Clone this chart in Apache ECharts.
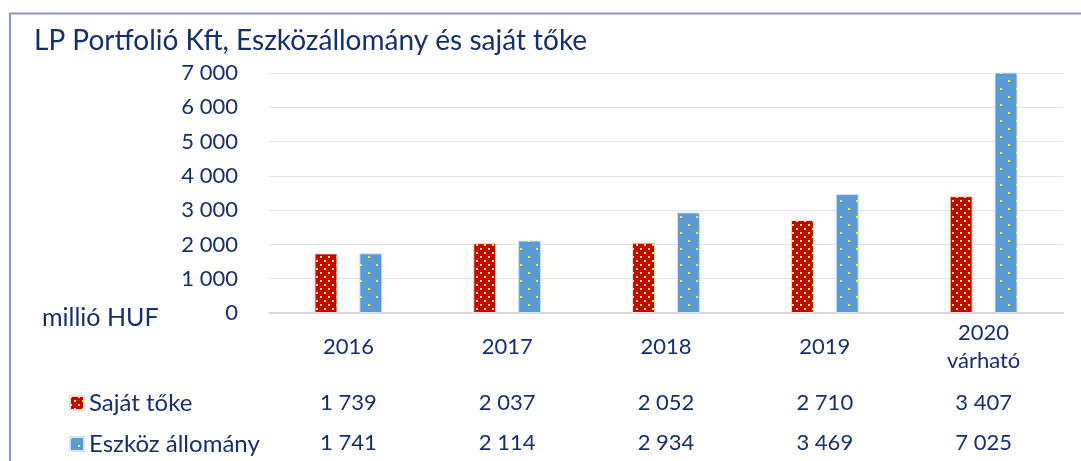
<!DOCTYPE html>
<html>
<head>
<meta charset="utf-8">
<script src="https://cdn.jsdelivr.net/npm/echarts@6/dist/echarts.min.js"></script>
<style>
  html, body { margin: 0; padding: 0; background: #fff; }
  #chart { width: 1081px; height: 461px; }
</style>
</head>
<body>
<div id="chart"></div>
<script>
// adatok
var years = ['2016', '2017', '2018', '2019', '2020\nvárható'];
var sajatToke = [1739, 2037, 2052, 2710, 3407];
var eszkoz = [1741, 2114, 2934, 3469, 7025];
var seriesNames = ['Saját tőke', 'Eszköz állomány'];

var textColor = '#15306a';
var font = 'Lato';

// ezres elválasztó szóközzel
function fmt(v) {
  return String(v).replace(/\B(?=(\d{3})+(?!\d))/g, ' ');
}

// pöttyös minták
function dotPattern(bg, size, step) {
  var c = document.createElement('canvas');
  c.width = size; c.height = size;
  var ctx = c.getContext('2d');
  ctx.fillStyle = bg;
  ctx.fillRect(0, 0, size, size);
  ctx.fillStyle = '#ffff00';
  ctx.fillRect(0, 0, 2, 2);
  ctx.fillRect(step, step, 2, 2);
  return { image: c, repeat: 'repeat' };
}

var redFill = dotPattern('#c00000', 8, 4);
var blueFill = dotPattern('#5b9bd5', 16, 8);

var myChart = echarts.init(document.getElementById('chart'));
myChart.setOption({
  animation: false,
  textStyle: { fontFamily: font, color: textColor },
  title: {
    text: 'LP Portfolió Kft, Eszközállomány és saját tőke',
    left: 29,
    top: 22,
    textStyle: { fontFamily: font, fontSize: 28, fontWeight: 'normal', color: textColor }
  },
  legend: {
    orient: 'vertical',
    left: 64,
    top: 386,
    itemWidth: 14,
    itemHeight: 14,
    itemGap: 17,
    icon: 'rect',
    textStyle: { fontFamily: font, fontSize: 24, color: textColor },
    data: seriesNames
  },
  grid: { left: 269, right: 18, top: 73, bottom: 148 },
  xAxis: [
    {
      type: 'category',
      data: years,
      axisLine: { lineStyle: { color: '#d9d9d9', width: 2 } },
      axisTick: { show: false },
      axisLabel: { fontSize: 22, color: textColor, lineHeight: 28, verticalAlign: 'middle', margin: 34 }
    },
    {
      type: 'category',
      position: 'bottom',
      data: sajatToke.map(fmt),
      axisLine: { show: false },
      axisTick: { show: false },
      axisLabel: { fontSize: 22, color: textColor, verticalAlign: 'middle', margin: 90 }
    },
    {
      type: 'category',
      position: 'bottom',
      data: eszkoz.map(fmt),
      axisLine: { show: false },
      axisTick: { show: false },
      axisLabel: { fontSize: 22, color: textColor, verticalAlign: 'middle', margin: 130 }
    }
  ],
  yAxis: {
    type: 'value',
    min: 0,
    max: 7000,
    interval: 1000,
    axisLine: { show: false },
    axisTick: { show: false },
    splitLine: { lineStyle: { color: '#e3e3e3', width: 1 } },
    axisLabel: { fontSize: 22, color: textColor, margin: 31, formatter: fmt }
  },
  graphic: [
    {
      type: 'polyline',
      shape: { points: [[10, 461], [10, 13.5], [1081, 13.5]] },
      style: { stroke: '#8a96b8', lineWidth: 2, fill: null }
    },
    {
      type: 'text',
      left: 42,
      top: 305,
      style: { text: 'millió HUF', fontFamily: font, fontSize: 25, fill: textColor }
    }
  ],
  series: [
    {
      name: seriesNames[0],
      type: 'bar',
      data: sajatToke,
      barWidth: 23,
      barGap: '95%',
      itemStyle: { color: redFill, borderColor: '#f2dcdc', borderWidth: 1 }
    },
    {
      name: seriesNames[1],
      type: 'bar',
      data: eszkoz,
      barWidth: 23,
      itemStyle: { color: blueFill, borderColor: '#d6e6f5', borderWidth: 1 }
    }
  ]
});
</script>
</body>
</html>
